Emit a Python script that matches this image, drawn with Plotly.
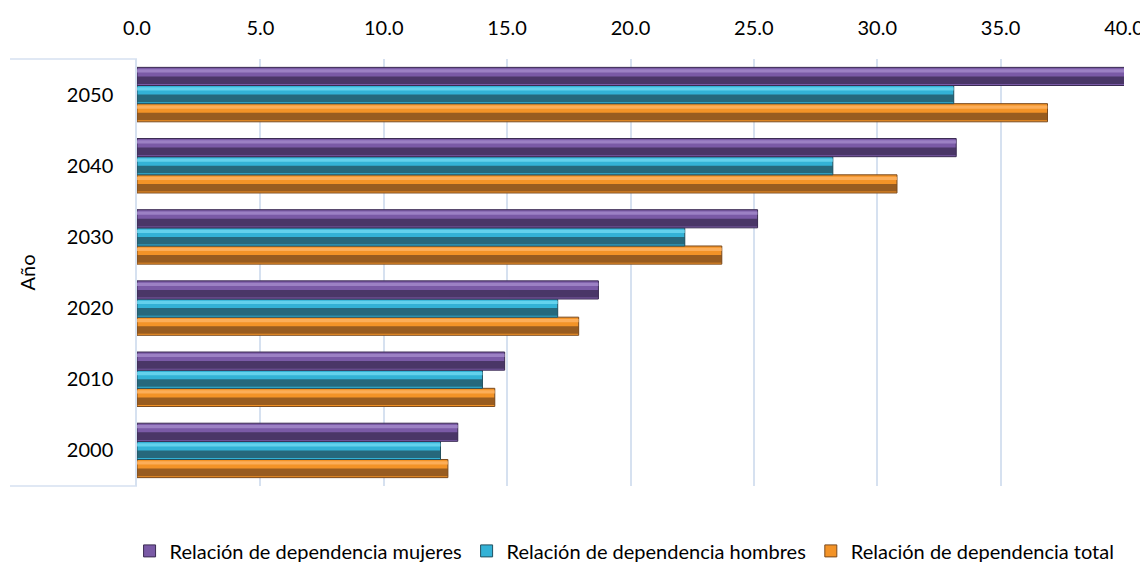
import plotly.graph_objects as go

years = ["2000", "2010", "2020", "2030", "2040", "2050"]
mujeres = [13.0, 14.9, 18.7, 25.15, 33.2, 40.3]
hombres = [12.3, 14.0, 17.05, 22.2, 28.2, 33.1]
total = [12.6, 14.5, 17.9, 23.7, 30.8, 36.9]

series = [
    ("Relación de dependencia total", total, "#7A4A1E", "#F39327", "#FFB566"),
    ("Relación de dependencia hombres", hombres, "#22505F", "#33B2D6", "#6FD9F2"),
    ("Relación de dependencia mujeres", mujeres, "#3A2B52", "#7A5AA6", "#A58BCC"),
]

W = 0.255
start = -1.5 * W
fig = go.Figure()
for i, (name, vals, dark, mid, light) in enumerate(series):
    off = start + i * W
    fig.add_trace(go.Bar(
        y=years, x=vals, orientation="h", name=name,
        width=W, offset=off,
        marker=dict(color=mid, line=dict(color=dark, width=1)),
        legendrank=3 - i, showlegend=True,
    ))
    fig.add_trace(go.Bar(
        y=years, x=vals, orientation="h", name=name,
        width=W * 0.42, offset=off + W * 0.08,
        marker=dict(color=dark, line=dict(width=0)),
        showlegend=False, hoverinfo="skip", opacity=0.75,
    ))
    fig.add_trace(go.Bar(
        y=years, x=vals, orientation="h", name=name,
        width=W * 0.18, offset=off + W * 0.72,
        marker=dict(color=light, line=dict(width=0)),
        showlegend=False, hoverinfo="skip", opacity=0.8,
    ))

fig.update_layout(
    width=1140, height=557,
    barmode="overlay",
    paper_bgcolor="white", plot_bgcolor="white",
    margin=dict(l=129, r=24, t=51, b=79, autoexpand=False),
    font=dict(family="Lato, Open Sans, sans-serif", size=20, color="#000000"),
    showlegend=True,
    legend=dict(orientation="h", x=0.494, xanchor="center", y=-0.152, yanchor="middle",
                font=dict(size=20), traceorder="normal", itemwidth=30,
                tracegroupgap=0),
    xaxis=dict(side="top", range=[0, 40], dtick=5, tickformat=".1f",
               showgrid=True, gridcolor="#D6E1F0", gridwidth=1.5,
               zeroline=False, showline=False, ticklabelstandoff=19,
               automargin=False, fixedrange=True),
    yaxis=dict(type="category", categoryorder="array", categoryarray=years,
               showline=True, linecolor="#D6E1F0", linewidth=1.5,
               showgrid=False, ticklabelstandoff=18, automargin=False,
               title=dict(text="Año", font=dict(size=20), standoff=26)),
    shapes=[
        dict(type="line", xref="paper", yref="paper", x0=-0.1287, x1=0, y0=1, y1=1,
             line=dict(color="#D6E1F0", width=1.5)),
        dict(type="line", xref="paper", yref="paper", x0=-0.1287, x1=0, y0=0, y1=0,
             line=dict(color="#D6E1F0", width=1.5)),
    ],
)

fig.write_html("out.html")
